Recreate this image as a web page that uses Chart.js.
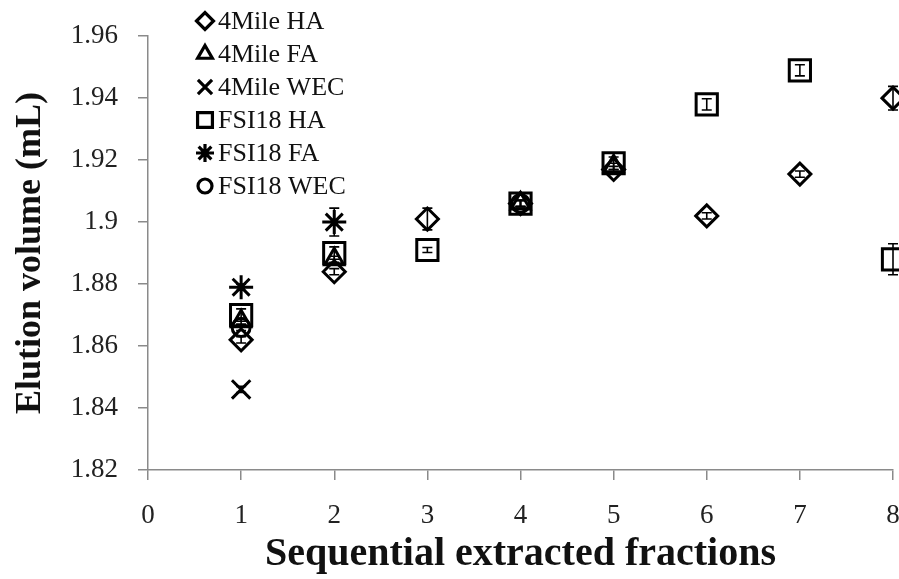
<!DOCTYPE html>
<html>
<head>
<meta charset="utf-8">
<script src="https://cdn.jsdelivr.net/npm/chart.js@4.4.1/dist/chart.umd.min.js"></script>
<style>
  html, body { margin: 0; padding: 0; background: #fff; }
  #wrap { width: 899px; height: 579px; }
</style>
</head>
<body>
<div id="wrap"><canvas id="elution" width="899" height="579"></canvas></div>
<script>
// fractions 1..8, elution volume (mL) with standard deviation
const mileHAx = [1, 2, 3, 4, 5, 6, 7, 8];
const mileHA = [1.862, 1.884, 1.901, 1.906, 1.917, 1.902, 1.9155, 1.940];
const mileHAErr = [0.001, 0.001, 0.0035, 0.001, 0.001, 0.001, 0.001, 0.0038];

const mileFAx = [1, 2, 4, 5];
const mileFA = [1.868, 1.888, 1.906, 1.918];
const mileFAErr = [0.001, 0.001, 0.001, 0.001];

const mileWECx = [1];
const mileWEC = [1.846];
const mileWECErr = [0.001];

const fsiHAx = [1, 2, 3, 4, 5, 6, 7, 8];
const fsiHA = [1.870, 1.890, 1.891, 1.906, 1.919, 1.938, 1.949, 1.888];
const fsiHAErr = [0.002, 0.002, 0.0008, 0.001, 0.002, 0.0018, 0.0018, 0.005];

const fsiFAx = [1, 2];
const fsiFA = [1.879, 1.900];
const fsiFAErr = [0.001, 0.0045];

const fsiWECx = [1, 4];
const fsiWEC = [1.866, 1.906];
const fsiWECErr = [0.001, 0.001];

const yTicks = [1.82, 1.84, 1.86, 1.88, 1.9, 1.92, 1.94, 1.96];

const serif = '"Liberation Serif", "Times New Roman", serif';

function pts(xs, ys) {
  return xs.map((x, i) => ({ x: x, y: ys[i] }));
}

function series(label, xs, ys, errs, style, radius, keyRadius) {
  return {
    label: label,
    data: pts(xs, ys),
    errors: errs,
    keyRadius: keyRadius,
    pointStyle: style,
    pointRadius: radius,
    pointHoverRadius: radius,
    pointBorderWidth: 3,
    borderColor: '#000',
    backgroundColor: 'rgba(0,0,0,0)',
    showLine: false,
    clip: false
  };
}

// vertical error bars with small caps
const errorBars = {
  id: 'errorBars',
  afterDatasetsDraw(chart) {
    const ctx = chart.ctx;
    const yScale = chart.scales.y;
    ctx.save();
    ctx.strokeStyle = '#000';
    ctx.lineWidth = 1.6;
    chart.data.datasets.forEach((ds, di) => {
      const meta = chart.getDatasetMeta(di);
      meta.data.forEach((el, i) => {
        const e = ds.errors[i];
        const v = ds.data[i].y;
        const top = yScale.getPixelForValue(v + e);
        const bot = yScale.getPixelForValue(v - e);
        const cap = 5;
        ctx.beginPath();
        ctx.moveTo(el.x, top);
        ctx.lineTo(el.x, bot);
        ctx.moveTo(el.x - cap, top);
        ctx.lineTo(el.x + cap, top);
        ctx.moveTo(el.x - cap, bot);
        ctx.lineTo(el.x + cap, bot);
        ctx.stroke();
      });
    });
    ctx.restore();
  }
};

// legend stacked in the upper left corner of the plot
const cornerLegend = {
  id: 'cornerLegend',
  afterDraw(chart) {
    const ctx = chart.ctx;
    const x0 = 205, y0 = 21, step = 33;
    ctx.save();
    ctx.font = '26px ' + serif;
    ctx.textBaseline = 'middle';
    chart.data.datasets.forEach((ds, i) => {
      const y = y0 + i * step;
      const opts = {
        pointStyle: ds.pointStyle,
        radius: ds.keyRadius,
        borderWidth: 3.2,
        rotation: 0
      };
      ctx.strokeStyle = '#000';
      ctx.fillStyle = 'rgba(0,0,0,0)';
      ctx.lineWidth = 3.2;
      Chart.helpers.drawPoint(ctx, opts, x0, y);
      ctx.fillStyle = '#111';
      ctx.fillText(ds.label, x0 + 13, y + 1);
    });
    ctx.restore();
  }
};

const axisColor = '#8a8a8a';

new Chart(document.getElementById('elution'), {
  type: 'scatter',
  data: {
    datasets: [
      series('4Mile HA', mileHAx, mileHA, mileHAErr, 'rectRot', 11, 8.5),
      series('4Mile FA', mileFAx, mileFA, mileFAErr, 'triangle', 11, 8.5),
      series('4Mile WEC', mileWECx, mileWEC, mileWECErr, 'crossRot', 13, 10),
      series('FSI18 HA', fsiHAx, fsiHA, fsiHAErr, 'rect', 15, 10.5),
      series('FSI18 FA', fsiFAx, fsiFA, fsiFAErr, 'star', 12, 9),
      series('FSI18 WEC', fsiWECx, fsiWEC, fsiWECErr, 'circle', 9, 7)
    ]
  },
  options: {
    responsive: false,
    animation: false,
    events: [],
    layout: {
      autoPadding: false,
      padding: { top: 36, right: 0, left: 0, bottom: 0 }
    },
    plugins: {
      legend: { display: false },
      tooltip: { enabled: false }
    },
    scales: {
      x: {
        type: 'linear',
        min: 0,
        max: 8,
        afterFit(scale) {
          scale.height = 109;
          scale.paddingRight = 6;
        },
        ticks: {
          stepSize: 1,
          padding: 20,
          color: '#222',
          font: { family: serif, size: 27 }
        },
        grid: {
          drawOnChartArea: false,
          drawTicks: true,
          tickLength: 10,
          color: axisColor,
          lineWidth: 1.5
        },
        border: { color: axisColor, width: 1.5 },
        title: {
          display: true,
          text: 'Sequential extracted fractions',
          color: '#111',
          padding: { top: 0, bottom: 0 },
          font: { family: serif, size: 40, weight: 'bold' }
        }
      },
      y: {
        type: 'linear',
        min: 1.82,
        max: 1.96,
        afterFit(scale) { scale.width = 148; },
        afterBuildTicks(scale) {
          scale.ticks = yTicks.map(v => ({ value: v }));
        },
        ticks: {
          padding: 20,
          color: '#222',
          font: { family: serif, size: 27 },
          callback: v => String(Math.round(v * 100) / 100)
        },
        grid: {
          drawOnChartArea: false,
          drawTicks: true,
          tickLength: 10,
          color: axisColor,
          lineWidth: 1.5
        },
        border: { color: axisColor, width: 1.5 },
        title: {
          display: true,
          text: 'Elution volume (mL)',
          color: '#111',
          padding: { top: 9, bottom: 0 },
          font: { family: serif, size: 36, weight: 'bold' }
        }
      }
    }
  },
  plugins: [errorBars, cornerLegend]
});
</script>
</body>
</html>
